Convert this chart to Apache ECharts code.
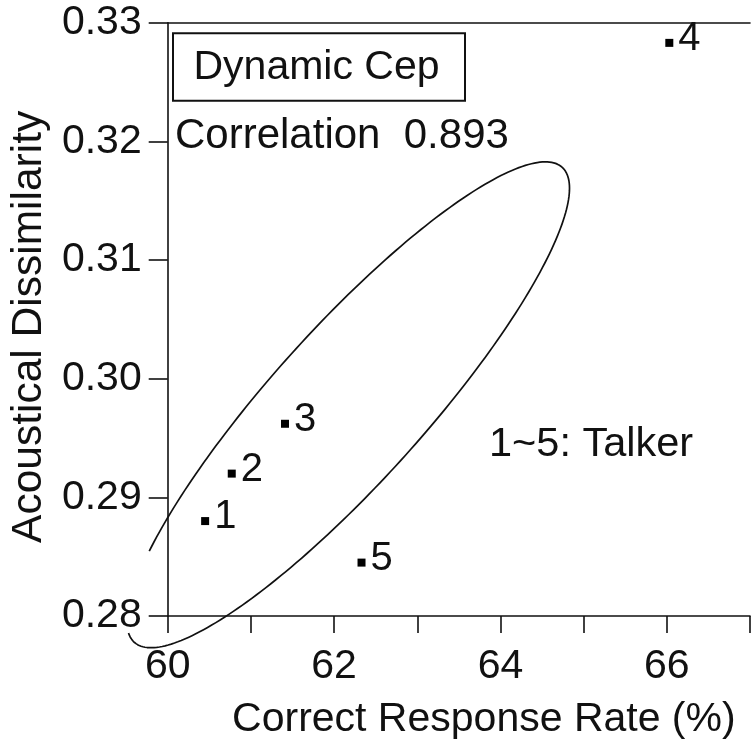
<!DOCTYPE html>
<html>
<head>
<meta charset="utf-8">
<script src="https://cdn.jsdelivr.net/npm/echarts@6/dist/echarts.min.js"></script>
<style>
html,body{margin:0;padding:0;background:#fff;}
#chart{width:753px;height:751px;}
</style>
</head>
<body>
<div id="chart"></div>
<script>
// ---- data ----
const talkers = ['1', '2', '3', '4', '5'];
const correctRate = [60.45, 60.77, 61.41, 66.03, 62.33];      // Correct Response Rate (%)
const dissimilarity = [0.2880, 0.2920, 0.2962, 0.3283, 0.2845]; // Acoustical Dissimilarity
const xTickLabels = ['60', '62', '64', '66'];
const yTickLabels = ['0.28', '0.29', '0.30', '0.31', '0.32', '0.33'];
const titleText = 'Dynamic Cep';
const correlationText = 'Correlation  0.893';
const noteText = '1~5: Talker';

// hand-drawn ellipse annotation (data units): centre, half major / half minor vectors, arc in degrees
const ellipseCenter = [62.17, 0.2978];
const ellipseMajor = [2.574, 0.0200];
const ellipseMinor = [0.672, -0.00438];
const ellipseArc = [220.6, 547.7];

const FONT = '"Liberation Sans", Arial, Helvetica, sans-serif';
const INK = '#111';

const ellipsePts = [];
for (let k = 0; k <= 240; k++) {
  const t = (ellipseArc[0] + (ellipseArc[1] - ellipseArc[0]) * k / 240) * Math.PI / 180;
  ellipsePts.push([
    ellipseCenter[0] + ellipseMajor[0] * Math.cos(t) + ellipseMinor[0] * Math.sin(t),
    ellipseCenter[1] + ellipseMajor[1] * Math.cos(t) + ellipseMinor[1] * Math.sin(t)
  ]);
}

const graphicBase = [{
  type: 'rect',
  shape: {x: 173, y: 33.3, width: 292, height: 67.4},
  style: {fill: 'none', stroke: INK, lineWidth: 2},
  z: 10
}, {
  type: 'text', x: 193.5, y: 67.5,
  style: {text: titleText, font: '41px ' + FONT, fill: INK, verticalAlign: 'middle', align: 'left'},
  z: 10
}, {
  type: 'text', x: 175, y: 136,
  style: {text: correlationText, font: '42px ' + FONT, fill: INK, verticalAlign: 'middle', align: 'left'},
  z: 10
}, {
  type: 'text', x: 489, y: 444.3,
  style: {text: noteText, font: '41.5px ' + FONT, fill: INK, verticalAlign: 'middle', align: 'left'},
  z: 10
}];

const chart = echarts.init(document.getElementById('chart'), null, {renderer: 'canvas'});
chart.setOption({
  animation: false,
  backgroundColor: '#fff',
  grid: {left: 163.5, right: -2, top: 22.7, bottom: 135, containLabel: false},
  xAxis: [{
    type: 'value', min: 60, max: 67, interval: 1,
    name: 'Correct Response Rate (%)', nameLocation: 'middle', nameGap: 83,
    nameTextStyle: {fontFamily: FONT, fontSize: 41, color: INK, padding: [0, 0, 0, 50]},
    axisLine: {show: true, onZero: false, lineStyle: {color: INK, width: 1.6}},
    axisTick: {show: true, inside: false, length: 17, lineStyle: {color: INK, width: 1.6}},
    axisLabel: {
      fontFamily: FONT, fontSize: 41, color: INK, margin: 30,
      formatter: v => xTickLabels.indexOf(String(Math.round(v))) >= 0 && Math.abs(v - Math.round(v)) < 1e-6 ? String(Math.round(v)) : ''
    },
    splitLine: {show: false}
  }, {
    type: 'value', min: 60, max: 67, position: 'top',
    axisLine: {show: true, onZero: false, lineStyle: {color: INK, width: 1.6}},
    axisTick: {show: false}, axisLabel: {show: false}, splitLine: {show: false}
  }],
  yAxis: {
    type: 'value', min: 0.28, max: 0.33, interval: 0.01,
    name: 'Acoustical Dissimilarity', nameLocation: 'middle', nameGap: 113,
    nameTextStyle: {fontFamily: FONT, fontSize: 42.5, color: INK, padding: [0, 15, 0, 0]},
    axisLine: {show: true, onZero: false, lineStyle: {color: INK, width: 1.6}},
    axisTick: {show: true, inside: false, length: 19, lineStyle: {color: INK, width: 1.6}},
    axisLabel: {
      fontFamily: FONT, fontSize: 41, color: INK, margin: 26,
      formatter: v => {
        const s = v.toFixed(2);
        return yTickLabels.indexOf(s) >= 0 ? s : '';
      }
    },
    splitLine: {show: false}
  },
  series: [{
    type: 'scatter',
    xAxisIndex: 0,
    yAxisIndex: 0,
    data: talkers.map((t, i) => [correctRate[i], dissimilarity[i], t]),
    symbol: 'rect',
    symbolSize: 8,
    itemStyle: {color: '#000', opacity: 1},
    clip: false,
    label: {
      show: true, position: 'right', distance: 5, offset: [0, -4],
      formatter: p => p.data[2],
      fontFamily: FONT, fontSize: 40, color: INK, opacity: 1
    },
    z: 3
  }],
  graphic: graphicBase
});

// ellipse outline: data points mapped through the chart's own axes
const ellipsePixels = ellipsePts.map(p => chart.convertToPixel({xAxisIndex: 0, yAxisIndex: 0}, p));
chart.setOption({
  graphic: graphicBase.concat([{
    type: 'polyline',
    shape: {points: ellipsePixels},
    style: {fill: null, stroke: INK, lineWidth: 1.7, lineJoin: 'round'},
    silent: true,
    z: 5
  }])
});
</script>
</body>
</html>
